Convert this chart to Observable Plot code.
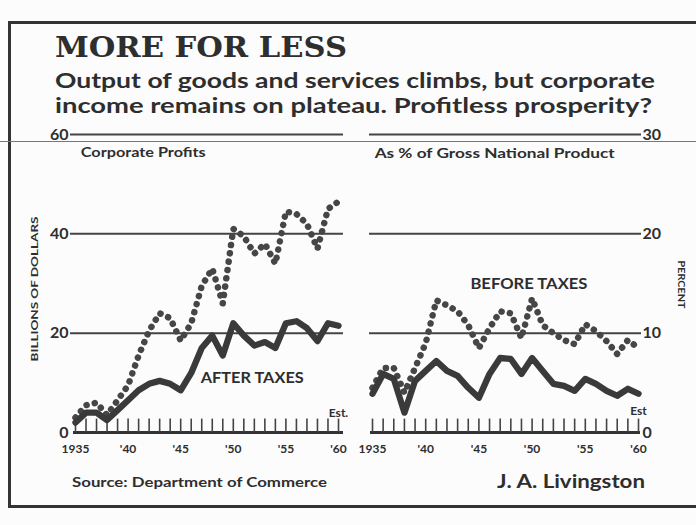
<!DOCTYPE html>
<html>
<head>
<meta charset="utf-8">
<script src="https://cdn.jsdelivr.net/npm/d3@7"></script>
<script src="https://cdn.jsdelivr.net/npm/@observablehq/plot@0.6"></script>
<style>
  html, body { margin: 0; padding: 0; background: #fcfcfc; }
  #page { position: relative; width: 696px; height: 525px; overflow: hidden; background: #fcfcfc; color: #2e2e2e; }
  .abs { position: absolute; }
  #frame { left: 8px; top: 21px; width: 720px; height: 481px; border-left: 3px solid #333; border-top: 3px solid #333; border-bottom: 3px solid #333; }
  #fold { left: 0; top: 141px; width: 696px; height: 1px; background: #777; }
</style>
</head>
<body>
<div id="page">
  <div id="frame" class="abs"></div>
  <div id="fold" class="abs"></div>
  <svg id="head" class="abs" style="left:0;top:0" width="696" height="125">
    <text x="55" y="57" font-family="DejaVu Serif" font-weight="bold" font-size="28" fill="#2e2e2e" textLength="292" lengthAdjust="spacingAndGlyphs">MORE FOR LESS</text>
    <text x="55" y="88" font-family="Lato" font-weight="bold" font-size="21" fill="#2e2e2e" textLength="600" lengthAdjust="spacingAndGlyphs">Output of goods and services climbs, but corporate</text>
    <text x="55" y="113" font-family="Lato" font-weight="bold" font-size="21" fill="#2e2e2e" textLength="597" lengthAdjust="spacingAndGlyphs">income remains on plateau. Profitless prosperity?</text>
  </svg>
  <div id="left" class="abs" style="left:0;top:120px"></div>
  <div id="right" class="abs" style="left:345px;top:120px"></div>
  <svg id="foot" class="abs" style="left:0;top:465px" width="696" height="40">
    <text x="72" y="22" font-family="Lato" font-weight="bold" font-size="14" fill="#2e2e2e" textLength="255" lengthAdjust="spacingAndGlyphs">Source: Department of Commerce</text>
    <text x="497" y="23" font-family="Lato" font-weight="bold" font-size="18" fill="#2e2e2e" textLength="148" lengthAdjust="spacingAndGlyphs">J. A. Livingston</text>
  </svg>
</div>
<script>
// ---- Data ----
const years = [1935,1936,1937,1938,1939,1940,1941,1942,1943,1944,1945,1946,1947,1948,1949,1950,1951,1952,1953,1954,1955,1956,1957,1958,1959,1960];
// Corporate profits, billions of dollars
const profitsBefore = [3, 5.5, 6, 3.5, 6.5, 9.5, 15.5, 20.5, 24, 23, 18.5, 22, 29.5, 33, 26, 41, 39.5, 36, 38, 34, 44.5, 44, 42, 37, 45, 46.5];
const profitsAfter  = [2, 4, 4, 2.5, 4.5, 6.5, 8.5, 9.8, 10.4, 9.8, 8.5, 12, 17, 19.5, 15.5, 22, 19.5, 17.5, 18.2, 17, 22, 22.4, 21, 18.4, 22, 21.5];
// As % of Gross National Product
const pctBefore = [4.5, 6.5, 6.5, 4, 6.5, 9, 13.3, 12.8, 12.2, 10.8, 8.5, 10.5, 12.2, 12, 9.5, 13.5, 10.8, 10, 9.3, 8.9, 10.9, 10.2, 9.2, 7.9, 9.3, 8.5];
const pctAfter  = [3.9, 5.9, 5.4, 2.0, 5.2, 6.2, 7.2, 6.2, 5.7, 4.5, 3.5, 5.9, 7.5, 7.4, 5.9, 7.5, 6.2, 4.9, 4.7, 4.2, 5.4, 4.9, 4.2, 3.7, 4.4, 3.9];
const labelYears = [1935, 1940, 1945, 1950, 1955, 1960];
const leftTicks = [0, 20, 40, 60];
const rightTicks = [0, 10, 20, 30];

const ink = "#2e2e2e";
const lineInk = "#3a3a3a";
const dotInk = "#464646";
const yearFmt = d => d === 1935 ? "1935" : "'" + String(d).slice(2);

const left = years.map((y, i) => ({year: y, before: profitsBefore[i], after: profitsAfter[i]}));
const right = years.map((y, i) => ({year: y, before: pctBefore[i], after: pctAfter[i]}));

const common = {
  height: 345,
  marginTop: 14,
  marginBottom: 33,
  style: {background: "transparent", color: ink, fontFamily: "Lato, sans-serif", fontWeight: "bold", overflow: "visible"}
};

// stretch a label to the width it has in the printed chart
function fit(svg, content, width) {
  svg.querySelectorAll("text").forEach(t => {
    if (t.textContent === content) {
      t.setAttribute("textLength", width);
      t.setAttribute("lengthAdjust", "spacingAndGlyphs");
    }
  });
}

const leftPlot = Plot.plot({
  ...common,
  width: 360,
  marginLeft: 75,
  marginRight: 22,
  x: {domain: [1935, 1960]},
  y: {domain: [0, 60]},
  marks: [
    Plot.ruleY([20, 40, 60], {stroke: "#444", strokeWidth: 2, insetLeft: -5, insetRight: -5}),
    Plot.ruleY([0], {stroke: "#333", strokeWidth: 3, insetLeft: -2, insetRight: -5}),
    Plot.ruleX(years, {x: d => d, y1: 0, y2: 2.7, stroke: "#444", strokeWidth: 1.6}),
    Plot.axisY({ticks: leftTicks, tickSize: 0, tickPadding: 7, fontSize: 16, fontWeight: "bold", label: null}),
    Plot.axisX({ticks: labelYears, tickFormat: yearFmt, tickSize: 0, tickPadding: 12, fontSize: 12, fontWeight: "bold", label: null}),
    Plot.line(left, {x: "year", y: "before", stroke: dotInk, strokeWidth: 6.5, strokeDasharray: "0.1 8.3", strokeLinecap: "round", strokeLinejoin: "round"}),
    Plot.line(left, {x: "year", y: "after", stroke: lineInk, strokeWidth: 6.3, strokeLinejoin: "round", strokeLinecap: "round"}),
    Plot.text(["Corporate Profits"], {x: 1935.5, y: 56.2, text: d => d, textAnchor: "start", fontSize: 12.5, fontWeight: "bold", fill: ink}),
    Plot.text(["AFTER TAXES"], {x: 1951.8, y: 11, text: d => d, fontSize: 15, fontWeight: "bold", fill: ink}),
    Plot.text(["Est."], {x: 1960, y: 3.8, text: d => d, fontSize: 12, fontWeight: "bold", fill: ink}),
    Plot.text(["BILLIONS OF DOLLARS"], {frameAnchor: "left", dx: -41, dy: 78, rotate: -90, textAnchor: "start", text: d => d, fontSize: 10, fontWeight: "bold", fill: ink})
  ]
});
fit(leftPlot, "Corporate Profits", 125);
fit(leftPlot, "BILLIONS OF DOLLARS", 145);
fit(leftPlot, "AFTER TAXES", 103);
document.getElementById("left").append(leftPlot);

const rightPlot = Plot.plot({
  ...common,
  width: 351,
  marginLeft: 27,
  marginRight: 58,
  x: {domain: [1935, 1960]},
  y: {domain: [0, 30]},
  marks: [
    Plot.ruleY([10, 20, 30], {stroke: "#444", strokeWidth: 2, insetLeft: -3, insetRight: -3}),
    Plot.ruleY([0], {stroke: "#333", strokeWidth: 3, insetLeft: -2, insetRight: -2}),
    Plot.ruleX(years, {x: d => d, y1: 0, y2: 1.35, stroke: "#444", strokeWidth: 1.6}),
    Plot.axisY({anchor: "right", ticks: rightTicks, tickSize: 0, tickPadding: 4, fontSize: 16, fontWeight: "bold", label: null}),
    Plot.axisX({ticks: labelYears, tickFormat: yearFmt, tickSize: 0, tickPadding: 12, fontSize: 12, fontWeight: "bold", label: null}),
    Plot.line(right, {x: "year", y: "before", stroke: dotInk, strokeWidth: 6.5, strokeDasharray: "0.1 8.3", strokeLinecap: "round", strokeLinejoin: "round"}),
    Plot.line(right, {x: "year", y: "after", stroke: lineInk, strokeWidth: 6.3, strokeLinejoin: "round", strokeLinecap: "round"}),
    Plot.text(["As % of Gross National Product"], {x: 1935.2, y: 28, text: d => d, textAnchor: "start", fontSize: 12.5, fontWeight: "bold", fill: ink}),
    Plot.text(["BEFORE TAXES"], {x: 1949.7, y: 14.9, text: d => d, fontSize: 15, fontWeight: "bold", fill: ink}),
    Plot.text(["Est"], {x: 1960, y: 2.1, text: d => d, fontSize: 12, fontWeight: "bold", fill: ink}),
    Plot.text(["PERCENT"], {frameAnchor: "right", dx: 42, dy: -23, rotate: 90, textAnchor: "start", text: d => d, fontSize: 9, fontWeight: "bold", fill: ink})
  ]
});
fit(rightPlot, "As % of Gross National Product", 240);
fit(rightPlot, "BEFORE TAXES", 117);
fit(rightPlot, "PERCENT", 48);
document.getElementById("right").append(rightPlot);
</script>
</body>
</html>
